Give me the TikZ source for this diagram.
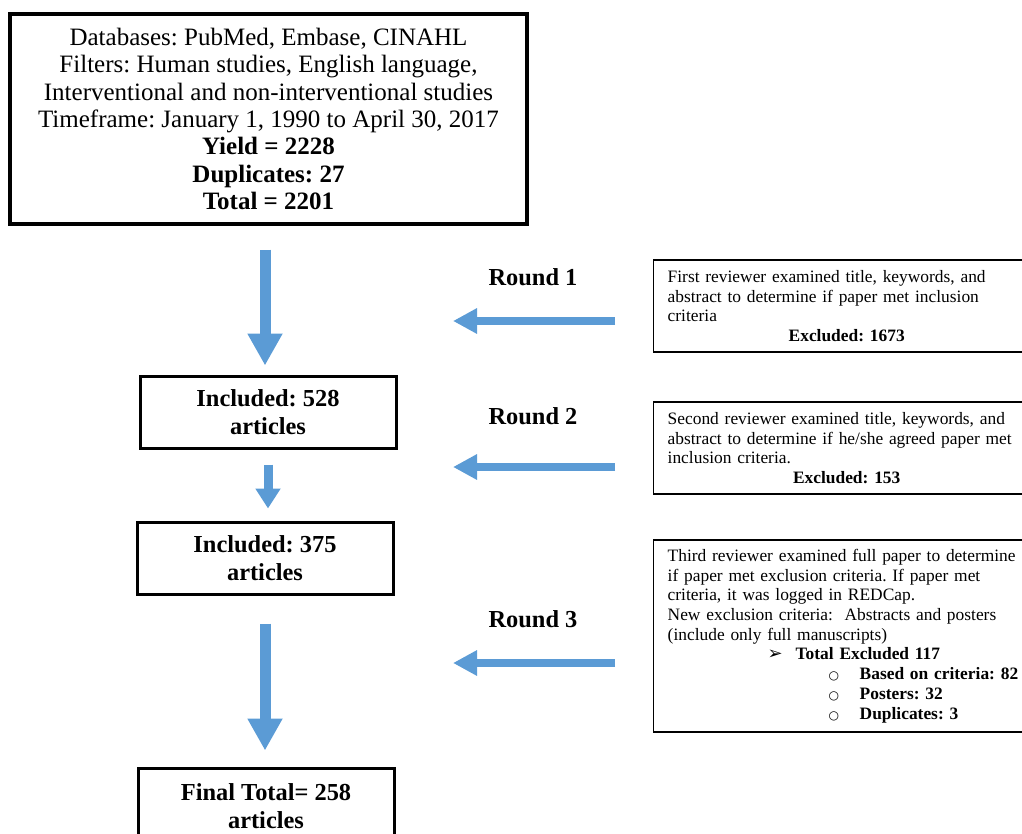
\documentclass[tikz,border=0pt]{standalone}
\usepackage{fontspec}
\setmainfont{Liberation Serif}
\newfontfamily\symfont{DejaVu Sans}
\usetikzlibrary{arrows.meta, calc}
\definecolor{flowblue}{HTML}{5B9BD5}
\frenchspacing

\tikzset{
  searchbox/.style={draw, line width=1.7pt, align=center, inner sep=0pt,
    minimum width=258.5pt, minimum height=105pt, font=\fontsize{12.5}{13.7}\selectfont},
  countbox/.style={draw, line width=1.5pt, align=center, inner sep=0pt,
    minimum width=128pt, minimum height=36pt, font=\fontsize{12.2}{14}\selectfont\bfseries},
  reviewbox/.style={draw, line width=0.7pt, anchor=west, text width=179pt,
    inner xsep=7pt, inner ysep=0pt, font=\fontsize{8.7}{9.85}\selectfont},
  roundlabel/.style={font=\fontsize{12.2}{14}\selectfont\bfseries},
  downarrow/.style={flowblue, line width=5.5pt, -{Triangle[length=16pt, width=16.5pt]}},
  smallarrow/.style={flowblue, line width=4.5pt, -{Triangle[length=10pt, width=12pt]}},
  leftarrow/.style={flowblue, line width=4pt, -{Triangle[length=12pt, width=12pt]}}
}

\newcommand{\exclitem}[1]{\hspace*{80.5pt}\makebox[15.5pt][l]{\symfont\fontsize{6}{9.85}\selectfont ○}\textbf{#1}}

\begin{document}
\begin{tikzpicture}[x=0.5pt, y=-0.5pt]
  \useasboundingbox (0,0) rectangle (1022,834);

  % left column
  \node[searchbox] (search) at (268.5,119) {Databases: PubMed, Embase, CINAHL\\
    Filters: Human studies, English language,\\
    Interventional and non-interventional studies\\
    Timeframe: January 1, 1990 to April 30, 2017\\
    \textbf{Yield = 2228}\\ \textbf{Duplicates: 27}\\ \textbf{Total = 2201}};
  \node[countbox] (inc1) at (268,412) {Included: 528\\ articles};
  \node[countbox] (inc2) at (265,558) {Included: 375\\ articles};
  \node[countbox, minimum height=38pt] (final) at (266,806) {Final Total= 258\\ articles};

  \draw[downarrow, shorten <=12pt, shorten >=4.5pt] (search.south -| inc2.north) -- (inc2.north |- inc1.north);
  \draw[smallarrow, shorten <=7.5pt, shorten >=6pt] (inc1.south) -- (inc1.south |- inc2.north);
  \draw[downarrow, shorten <=14pt, shorten >=8pt] (inc2.south) -- (inc2.south |- final.north);

  % rounds
  \node[roundlabel] (round1) at (533,277) {Round 1};
  \node[roundlabel] (round2) at (533,416) {Round 2};
  \node[roundlabel] (round3) at (533,619) {Round 3};

  \node[reviewbox, minimum height=46pt] (rev1) at (653,306) {{\raggedright
    First reviewer examined title, keywords, and\\
    abstract to determine if paper met inclusion\\
    criteria\par}{\centering\bfseries Excluded: 1673\par}};
  \node[reviewbox, minimum height=46pt] (rev2) at (653,448) {{\raggedright
    Second reviewer examined title, keywords, and\\
    abstract to determine if he/she agreed paper met\\
    inclusion criteria.\par}{\centering\bfseries Excluded: 153\par}};
  \node[reviewbox, minimum height=96pt] (rev3) at (653,636) {{\raggedright
    Third reviewer examined full paper to determine\\
    if paper met exclusion criteria. If paper met\\
    criteria, it was logged in REDCap.\\
    New exclusion criteria:\ \ Abstracts and posters\\
    (include only full manuscripts)\\
    \hspace*{50pt}\makebox[14pt][l]{\symfont\fontsize{9}{9.85}\selectfont ➢}\textbf{Total Excluded 117}\\
    \exclitem{Based on criteria: 82}\\
    \exclitem{Posters: 32}\\
    \exclitem{Duplicates: 3}\par}};

  \coordinate (tip1) at (453,321);
  \coordinate (tip2) at (453,467);
  \coordinate (tip3) at (453,663);
  \draw[leftarrow, shorten <=19pt] (rev1.west |- tip1) -- (tip1);
  \draw[leftarrow, shorten <=19pt] (rev2.west |- tip2) -- (tip2);
  \draw[leftarrow, shorten <=19pt] (rev3.west |- tip3) -- (tip3);
\end{tikzpicture}
\end{document}
